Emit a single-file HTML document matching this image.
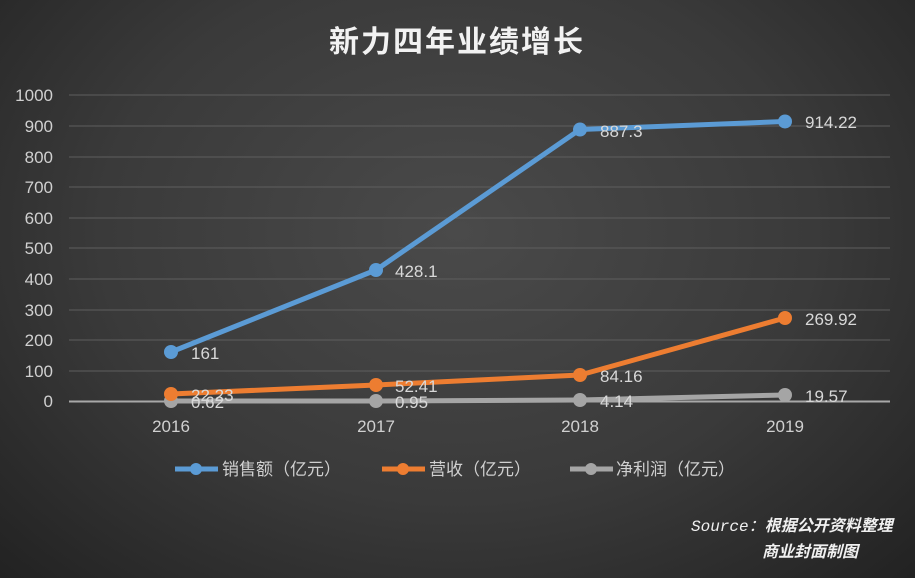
<!DOCTYPE html>
<html><head><meta charset="utf-8"><style>
body{margin:0;width:915px;height:578px;overflow:hidden;background:radial-gradient(ellipse at 50% 40%,#4a4a4a 0%,#3a3a3a 55%,#222 100%);font-family:"Liberation Sans","Noto Sans CJK SC",sans-serif;}
</style></head><body>
<svg width="915" height="578" xmlns="http://www.w3.org/2000/svg" style="position:absolute;left:0;top:0">
<text x="457" y="52" text-anchor="middle" fill="#f2f2f2" font-size="30" font-weight="bold" font-family="Liberation Sans,Noto Sans CJK SC,sans-serif" letter-spacing="2">新力四年业绩增长</text>
<g stroke="#5e5e5e" stroke-width="1">
<line x1="69" x2="890" y1="95" y2="95"/><line x1="69" x2="890" y1="126" y2="126"/><line x1="69" x2="890" y1="157" y2="157"/><line x1="69" x2="890" y1="187" y2="187"/><line x1="69" x2="890" y1="218" y2="218"/><line x1="69" x2="890" y1="248" y2="248"/><line x1="69" x2="890" y1="279" y2="279"/><line x1="69" x2="890" y1="310" y2="310"/><line x1="69" x2="890" y1="340" y2="340"/><line x1="69" x2="890" y1="371" y2="371"/>
</g>
<line x1="69" x2="890" y1="401.5" y2="401.5" stroke="#a8a8a8" stroke-width="2"/>
<g fill="#d0d0d0" font-size="17" text-anchor="end">
<text x="53" y="101">1000</text><text x="53" y="132">900</text><text x="53" y="163">800</text><text x="53" y="193">700</text><text x="53" y="224">600</text><text x="53" y="254">500</text><text x="53" y="285">400</text><text x="53" y="316">300</text><text x="53" y="346">200</text><text x="53" y="377">100</text><text x="53" y="407">0</text>
</g>
<g fill="#d0d0d0" font-size="17" text-anchor="middle">
<text x="171" y="432">2016</text><text x="376" y="432">2017</text><text x="580" y="432">2018</text><text x="785" y="432">2019</text>
</g>
<polyline points="171,401 376,401 580,400 785,395" fill="none" stroke="#a5a5a5" stroke-width="5"/>
<polyline points="171,394 376,385 580,375 785,318" fill="none" stroke="#ed7d31" stroke-width="5"/>
<polyline points="171,352 376,270 580,129.5 785,121.5" fill="none" stroke="#5b9bd5" stroke-width="5"/>
<g fill="#a5a5a5"><circle cx="171" cy="401" r="7"/><circle cx="376" cy="401" r="7"/><circle cx="580" cy="400" r="7"/><circle cx="785" cy="395" r="7"/></g>
<g fill="#ed7d31"><circle cx="171" cy="394" r="7"/><circle cx="376" cy="385" r="7"/><circle cx="580" cy="375" r="7"/><circle cx="785" cy="318" r="7"/></g>
<g fill="#5b9bd5"><circle cx="171" cy="352" r="7"/><circle cx="376" cy="270" r="7"/><circle cx="580" cy="129.5" r="7"/><circle cx="785" cy="121.5" r="7"/></g>
<g fill="#d8d8d8" font-size="17">
<text x="191" y="359">161</text><text x="395" y="277">428.1</text><text x="600" y="137">887.3</text><text x="805" y="128">914.22</text>
<text x="191" y="401">22.23</text><text x="395" y="392">52.41</text><text x="600" y="382">84.16</text><text x="805" y="325">269.92</text>
<text x="191" y="408">0.62</text><text x="395" y="408">0.95</text><text x="600" y="407">4.14</text><text x="805" y="402">19.57</text>
</g>
<g font-size="17" fill="#d0d0d0">
<line x1="175" x2="218" y1="469" y2="469" stroke="#5b9bd5" stroke-width="5"/><circle cx="196" cy="469" r="6" fill="#5b9bd5"/>
<text x="222" y="475">销售额（亿元）</text>
<line x1="382" x2="425" y1="469" y2="469" stroke="#ed7d31" stroke-width="5"/><circle cx="403" cy="469" r="6" fill="#ed7d31"/>
<text x="429" y="475">营收（亿元）</text>
<line x1="570" x2="613" y1="469" y2="469" stroke="#a5a5a5" stroke-width="5"/><circle cx="591" cy="469" r="6" fill="#a5a5a5"/>
<text x="616" y="475">净利润（亿元）</text>
</g>
<g fill="#f0f0f0" font-size="16" font-style="italic">
<text x="691" y="531" font-family="Liberation Mono,Noto Sans CJK SC,monospace">Source：<tspan font-family="Liberation Sans,Noto Sans CJK SC,sans-serif" font-weight="bold">根据公开资料整理</tspan></text>
<text x="762" y="557" font-weight="bold">商业封面制图</text>
</g>
</svg>
</body></html>
